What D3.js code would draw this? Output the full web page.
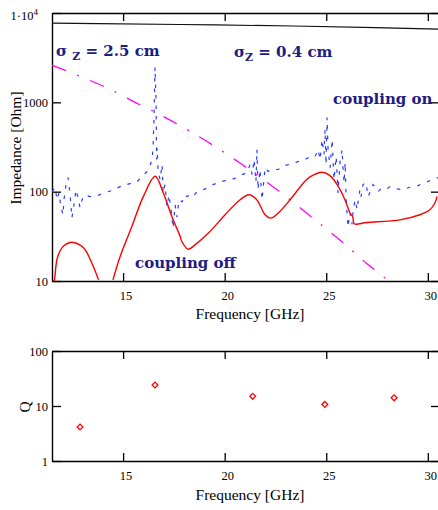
<!DOCTYPE html>
<html><head><meta charset="utf-8">
<script src="https://cdn.jsdelivr.net/npm/d3@7"></script>
<style>body{margin:0;background:#fff}</style>
</head><body><svg id="c" width="438" height="510"></svg>
<script>
// ---------- data ----------
const xTicks = [15, 20, 25, 30];
const zTicks = [10, 100, 1000, 10000];
const qTicks = [1, 10, 100];

// coupling off (red), null = below 10 Ohm
const offFreq = [11.55,11.62,11.74,11.90,12.07,12.48,13.05,13.46,13.79,14.10,14.50,14.85,15.43,16.00,16.58,16.98,17.40,17.81,17.89,18.21,18.54,19.20,20.02,20.76,21.20,21.58,21.99,22.27,22.64,23.22,23.95,24.20,24.78,25.18,25.59,25.92,26.17,26.30,26.38,26.99,28.63,29.61,30.10,30.35,30.46];
const offZ    = [9.0,10.3,17.2,21.8,24.7,27.2,23.5,15.9,10.3,null,10.3,18.7,40.7,88.5,148.6,96.6,52.7,31.5,27.7,22.7,25.4,34.4,55.2,81.3,92.5,81.3,55.2,50.6,57.7,81.3,130.6,146.2,164.8,151.4,114.8,81.3,57.7,52.7,43.7,45.2,48.4,55.2,62.8,74.6,88.5];

// coupling on (blue dashed)
const onFreq = [11.50,11.65,11.75,11.84,11.94,12.04,12.09,12.19,12.29,12.39,12.48,12.58,12.68,12.78,12.88,12.98,13.12,13.37,13.72,14.06,14.45,14.75,14.96,15.34,15.69,15.93,16.18,16.33,16.42,16.47,16.52,16.57,16.62,16.65,16.67,16.72,16.82,16.92,16.97,17.06,17.16,17.26,17.36,17.46,17.56,17.65,17.75,17.90,18.05,18.15,18.29,18.44,18.64,18.93,19.18,19.43,19.67,20.02,20.31,20.61,20.86,21.10,21.25,21.35,21.45,21.54,21.59,21.64,21.74,21.84,21.99,22.14,22.33,22.63,22.97,23.32,23.61,23.96,24.20,24.45,24.60,24.70,24.79,24.89,24.94,24.99,25.04,25.09,25.19,25.29,25.38,25.49,25.58,25.68,25.78,25.83,25.88,25.93,25.98,26.07,26.17,26.27,26.32,26.42,26.52,26.57,26.66,26.71,26.81,26.96,27.06,27.21,27.30,27.40,27.55,27.70,27.90,28.14,28.44,28.78,29.18,29.52,29.87,30.21,30.51];
const onZ = [100,111,81,97,68,55,81,120,144,92,51,71,105,86,66,81,92,88,90,97,103,111,117,123,129,148,168,196,229,296,644,2472,1081,229,312,177,136,201,97,120,68,92,63,39,71,52,81,77,92,88,92,88,100,105,111,120,126,133,136,144,155,163,201,155,229,129,296,105,177,81,186,168,177,177,196,206,217,229,247,247,296,229,384,261,498,201,678,296,186,384,136,247,97,217,296,177,126,212,81,40,58,43,60,81,63,77,105,88,120,126,88,105,120,114,100,108,105,114,108,105,114,117,126,136,144];

// bunch spectrum sigma_z = 2.5 cm (magenta dash-dot)
const longBunchFreq = [11.50,12.98,14.36,15.59,16.97,18.89,20.86,22.58,24.45,26.07,26.96,28.04,28.6];
const longBunchZ    = [2606,1910,1400,1000,696,394,201,105,48.4,24.1,15.9,10,7];

// bunch spectrum sigma_z = 0.4 cm (black)
const shortBunchFreq = [11.5,17.8,23.4,27.9,30.6];
const shortBunchZ    = [7700,7430,7150,6820,6600];

// Q factors
const qFreq = [12.88,16.57,21.38,24.93,28.34];
const qVal  = [4.15,24.1,15.0,10.7,14.1];

// ---------- drawing ----------
const svg = d3.select("#c");
svg.append("rect").attr("width",438).attr("height",510).attr("fill","#fff");
const serif = "'Liberation Serif','Times New Roman',serif";

const L = 52, R = 440;
const x = d3.scaleLinear().domain([11.5, 30.6]).range([L, R]);
const yZ = d3.scaleLog().domain([10, 10000]).range([281, 13]);
const yQ = d3.scaleLog().domain([1, 100]).range([461, 351]);

function styleAxis(g){
  g.selectAll("path.domain").attr("stroke","#000").attr("stroke-width",1.4);
  g.selectAll(".tick line").attr("stroke","#000").attr("stroke-width",1.3);
  g.selectAll(".tick text").attr("font-family",serif).attr("font-size","12.5px").attr("fill","#000");
}

function frame(yScale, top, bottom, leftTicks, leftFmt){
  const gl = svg.append("g").attr("transform",`translate(${L},0)`)
    .call(d3.axisLeft(yScale).tickValues(leftTicks).tickSize(-9).tickSizeOuter(0).tickPadding(4).tickFormat(leftFmt));
  styleAxis(gl);
  const gr = svg.append("g").attr("transform",`translate(${R},0)`)
    .call(d3.axisRight(yScale).tickValues(leftTicks).tickSize(-9).tickSizeOuter(0).tickFormat(""));
  styleAxis(gr);
  const gt = svg.append("g").attr("transform",`translate(0,${top})`)
    .call(d3.axisTop(x).tickValues(xTicks).tickSize(-8).tickSizeOuter(0).tickFormat(""));
  styleAxis(gt);
  const gb = svg.append("g").attr("transform",`translate(0,${bottom})`)
    .call(d3.axisBottom(x).tickValues(xTicks).tickSize(-8).tickSizeOuter(0).tickPadding(10).tickFormat(d3.format("d")));
  styleAxis(gb);
  gb.selectAll(".tick text").attr("dx", 2.5);
  return gl;
}

// top chart
const glTop = frame(yZ, 13, 281, zTicks, d => d === 10000 ? "" : d3.format("d")(d));
glTop.selectAll(".tick text").filter(d => d === 10000)
  .attr("x", -14).attr("dy","0.5em")
  .text("1·10").append("tspan").attr("dy","-0.55em").attr("font-size","9px").text("4");

const defs = svg.append("defs");
defs.append("clipPath").attr("id","clipTop").append("rect").attr("x",L).attr("y",13).attr("width",R-L).attr("height",268);
const plot = svg.append("g").attr("clip-path","url(#clipTop)");

const lineZ = (fs, zs, curve) => d3.line().curve(curve || d3.curveLinear)
  .defined((d,i)=> zs[i] != null).x((d,i)=>x(fs[i])).y((d,i)=>yZ(zs[i]))(fs);

plot.append("path").attr("d", lineZ(shortBunchFreq, shortBunchZ, d3.curveMonotoneX))
  .attr("fill","none").attr("stroke","#111").attr("stroke-width",1.2);
plot.append("path").attr("d", lineZ(longBunchFreq, longBunchZ, d3.curveMonotoneX))
  .attr("fill","none").attr("stroke","#ff00ff").attr("stroke-width",1.3)
  .attr("stroke-dasharray","15,12,2,12");
plot.append("path").attr("d", lineZ(onFreq, onZ))
  .attr("fill","none").attr("stroke","#2a3cff").attr("stroke-width",1.2)
  .attr("stroke-dasharray","3.5,7");
plot.append("path").attr("d", lineZ(offFreq, offZ, d3.curveCatmullRom.alpha(0.5)))
  .attr("fill","none").attr("stroke","#ff0000").attr("stroke-width",1.4);

// annotations
const annColor = "#1c1c84";
const annFont = "'DejaVu Serif',serif";
function sigma(xp, yp, val, gap){
  const t = svg.append("text").attr("x",xp).attr("y",yp).attr("font-family",annFont)
    .attr("font-weight","bold").attr("font-size","15px").attr("fill",annColor);
  t.append("tspan").text("σ" + (gap ? " " : ""));
  t.append("tspan").attr("dy",4).attr("font-size","11px").text("Z");
  t.append("tspan").attr("dy",-4).text(" = " + val);
}
sigma(56, 56, "2.5 cm", true);
sigma(234, 57, "0.4 cm", false);
svg.append("text").attr("x",333).attr("y",104).attr("font-family",annFont).attr("font-weight","bold")
  .attr("font-size","15px").attr("fill",annColor).text("coupling on");
svg.append("text").attr("x",135).attr("y",268).attr("font-family",annFont).attr("font-weight","bold")
  .attr("font-size","15px").attr("fill",annColor).text("coupling off");

// axis titles top
svg.append("text").attr("transform","translate(21,148) rotate(-90)").attr("text-anchor","middle")
  .attr("font-family",serif).attr("font-size","15.5px").text("Impedance [Ohm]");
svg.append("text").attr("x",250).attr("y",319).attr("text-anchor","middle")
  .attr("font-family",serif).attr("font-size","15.5px").text("Frequency [GHz]");

// bottom chart
frame(yQ, 351, 461, qTicks, d3.format("d"));
svg.append("g").selectAll("path").data(qFreq).join("path")
  .attr("transform",(d,i)=>`translate(${x(d)},${yQ(qVal[i])}) rotate(45)`)
  .attr("d", d3.symbol(d3.symbolSquare, 17)())
  .attr("fill","none").attr("stroke","#ff0000").attr("stroke-width",1.3);

svg.append("text").attr("transform","translate(30,407) rotate(-90)").attr("text-anchor","middle")
  .attr("font-family",serif).attr("font-size","15.5px").text("Q");
svg.append("text").attr("x",250).attr("y",500).attr("text-anchor","middle")
  .attr("font-family",serif).attr("font-size","15.5px").text("Frequency [GHz]");
</script>
</body></html>
